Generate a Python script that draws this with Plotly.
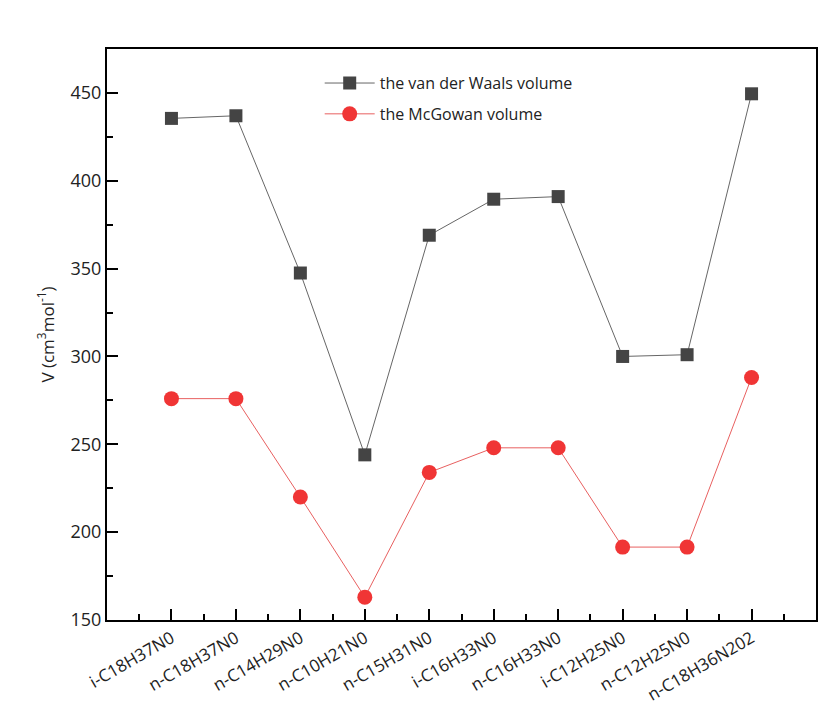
import plotly.graph_objects as go

categories = ["i-C18H37N0", "n-C18H37N0", "n-C14H29N0", "n-C10H21N0", "n-C15H31N0",
              "i-C16H33N0", "n-C16H33N0", "i-C12H25N0", "n-C12H25N0", "n-C18H36N202"]
vdw_volume = [435.5, 437, 347.5, 244, 369, 389.5, 391, 300, 301, 449.5]
mcgowan_volume = [276, 276, 220, 163, 234, 248, 248, 191.5, 191.5, 288]
y_ticks = [150, 200, 250, 300, 350, 400, 450]

xpos = list(range(1, len(categories) + 1))

fig = go.Figure()
fig.add_trace(go.Scatter(
    x=xpos, y=vdw_volume, mode="lines+markers", name="the van der Waals volume",
    legendgroup="a",
    line=dict(color="#666666", width=1),
    marker=dict(symbol="square", size=13, color="#444444"),
))
fig.add_trace(go.Scatter(
    x=xpos, y=mcgowan_volume, mode="lines+markers", name="the McGowan volume",
    legendgroup="b",
    line=dict(color="#e86060", width=1),
    marker=dict(symbol="circle", size=15, color="#f03535"),
))

font_family = "Open Sans, Noto Sans, sans-serif"
fig.update_layout(
    width=835, height=711,
    margin=dict(l=107, r=19, t=49, b=91),
    paper_bgcolor="white", plot_bgcolor="white",
    font=dict(family=font_family, color="#222222"),
    showlegend=True,
    legend=dict(x=0.30, y=0.97, xanchor="left", yanchor="top",
                bgcolor="rgba(0,0,0,0)", font=dict(size=16, color="#222222"),
                tracegroupgap=7, itemwidth=50),
    xaxis=dict(
        range=[0, 11], tickmode="array", tickvals=xpos, ticktext=categories,
        tickangle=-30, ticks="inside", ticklen=11, tickwidth=2, tickcolor="black",
        showline=True, linecolor="black", linewidth=2, mirror=True, automargin=False,
        showgrid=False, zeroline=False, tickfont=dict(size=17, color="#222222"),
        minor=dict(tickvals=[x + 0.5 for x in range(0, 11)], ticks="inside",
                   ticklen=6, tickwidth=2, tickcolor="black"),
    ),
    yaxis=dict(
        range=[150, 475], tickmode="array", tickvals=y_ticks,
        ticks="inside", ticklen=11, tickwidth=2, tickcolor="black",
        showline=True, linecolor="black", linewidth=2, mirror=True, automargin=False,
        showgrid=False, zeroline=False, tickfont=dict(size=18, color="#222222"),
        title=dict(text="V (cm<sup>3</sup>mol<sup>-1</sup>)", font=dict(size=17, color="#222222"),
                   standoff=12),
        minor=dict(tickvals=[175, 225, 275, 325, 375, 425, 475], ticks="inside",
                   ticklen=6, tickwidth=2, tickcolor="black"),
    ),
)

fig.write_html("out.html")
